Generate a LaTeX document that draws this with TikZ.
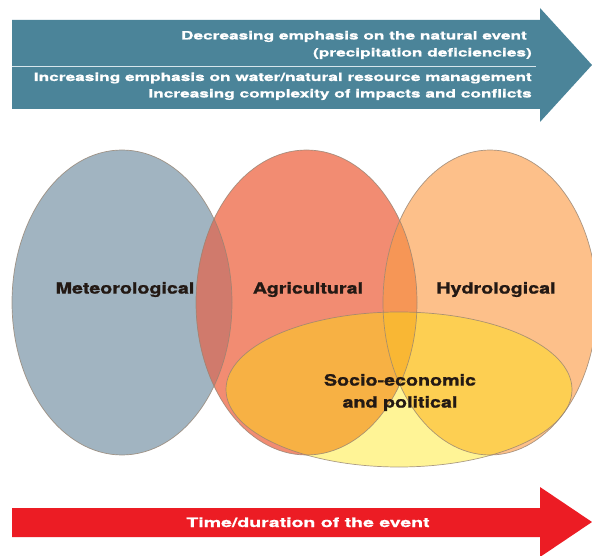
\documentclass[tikz,border=0pt]{standalone}
\usepackage{fontspec}
\newfontfamily\topfont[FakeStretch=1.5,FakeBold=0.8]{TeX Gyre Heros}
\newfontfamily\lblfont[FakeStretch=1.27,FakeBold=1.2]{TeX Gyre Heros}
\definecolor{teal}{RGB}{75,132,153}
\definecolor{divline}{RGB}{215,230,236}
\definecolor{arrowred}{RGB}{236,28,36}
\definecolor{meteo}{RGB}{161,180,193}
\definecolor{agri}{RGB}{242,140,114}
\definecolor{hydro}{RGB}{253,192,138}
\definecolor{lensma}{RGB}{208,122,108}
\definecolor{lensah}{RGB}{246,150,86}
\definecolor{socio}{RGB}{255,230,5}
\definecolor{outl}{RGB}{150,132,115}
\definecolor{lbltext}{RGB}{35,25,20}
\tikzset{
  toptext/.style={anchor=base east, inner sep=0pt, text=white, font=\topfont\bfseries\fontsize{11.5}{13}\selectfont},
  lbl/.style={anchor=base, inner sep=0pt, text=lbltext, font=\lblfont\bfseries\fontsize{15.5}{18}\selectfont},
  bottext/.style={anchor=base, inner sep=0pt, text=white, font=\topfont\bfseries\fontsize{13}{15}\selectfont},
  outline/.style={draw=outl, line width=0.7pt, draw opacity=0.8}
}
\begin{document}
\begin{tikzpicture}[x=1pt,y=-1pt]
\useasboundingbox (0,0) rectangle (592,556);
\clip (0,0) rectangle (592,556);
\fill[white] (0,0) rectangle (592,556);
% top arrow
\fill[teal] (12,20) -- (540,20) -- (540,8) -- (592,65) -- (540,122) -- (540,109) -- (12,109) -- cycle;
\draw[divline, line width=1pt] (12,67) -- (536,67);
\node[toptext] (t1) at (527,39.5) {Decreasing emphasis on the natural event};
\node[toptext] (t2) at (532,56.5) {(precipitation deficiencies)};
\node[toptext] (t3) at (532,81) {Increasing emphasis on water/natural resource management};
\node[toptext] (t4) at (532,97.5) {Increasing complexity of impacts and conflicts};
% ellipses
\fill[meteo] (122,302.5) ellipse [x radius=110pt, y radius=152.5pt];
\fill[agri] (306.5,302.5) ellipse [x radius=110.5pt, y radius=152.5pt];
\begin{scope}
  \clip (122,302.5) ellipse [x radius=110pt, y radius=152.5pt];
  \fill[lensma] (306.5,302.5) ellipse [x radius=110.5pt, y radius=152.5pt];
\end{scope}
\fill[hydro] (490,302.5) ellipse [x radius=107pt, y radius=152.5pt];
\begin{scope}
  \clip (306.5,302.5) ellipse [x radius=110.5pt, y radius=152.5pt];
  \fill[lensah] (490,302.5) ellipse [x radius=107pt, y radius=152.5pt];
\end{scope}
\fill[socio, fill opacity=0.42] (399,389.5) ellipse [x radius=173pt, y radius=77.5pt];
% outlines
\path[outline] (122,302.5) ellipse [x radius=110pt, y radius=152.5pt];
\path[outline] (306.5,302.5) ellipse [x radius=110.5pt, y radius=152.5pt];
\path[outline] (490,302.5) ellipse [x radius=107pt, y radius=152.5pt];
\path[outline] (399,389.5) ellipse [x radius=173pt, y radius=77.5pt];
% labels
\node[lbl] (met) at (125,293.6) {Meteorological};
\node[lbl] (agr) at (308,293.6) {Agricultural};
\node[lbl] (hyd) at (496,293.6) {Hydrological};
\node[lbl] (soc1) at (400,385.6) {Socio-economic};
\node[lbl] (soc2) at (400,407.6) {and political};
% bottom arrow
\fill[arrowred] (12,508) -- (540,508) -- (540,487) -- (592,522) -- (540,557) -- (540,537) -- (12,537) -- cycle;
\node[bottext] (time) at (308,527) {Time/duration of the event};
\end{tikzpicture}
\end{document}
